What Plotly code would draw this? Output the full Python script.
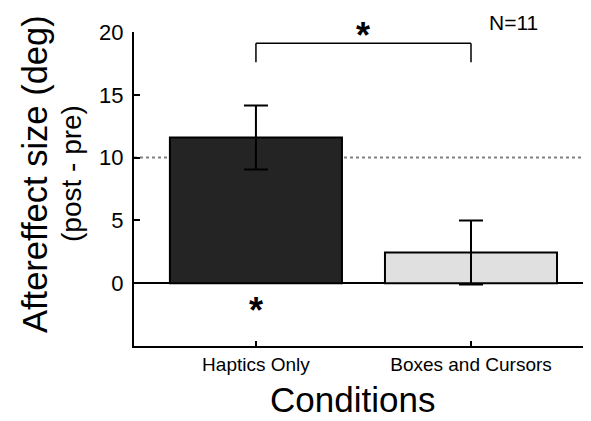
import plotly.graph_objects as go

categories = ["Haptics Only", "Boxes and Cursors"]
means = [11.6, 2.45]
errors = [2.55, 2.55]
bar_colors = ["#242424", "#e0e0e0"]
y_ticks = [0, 5, 10, 15, 20]
reference_value = 10
bracket_top = 19.1
bracket_leg = 17.6
star_below = -2.2
n_label = "N=11"

FONT = "Arial, Liberation Sans, Helvetica, sans-serif"

# The page body has an 8px margin, so the figure is sized to fill the rest.
W, H = 583, 413
L, R, T, B = 126, 0, 24, 75
PW, PH = W - L - R, H - T - B
X_RANGE = [-0.567, 1.558]
Y_RANGE = [-5, 20]

fig = go.Figure()
fig.add_trace(go.Bar(
    x=categories, y=means,
    width=0.8,
    marker=dict(color=bar_colors, line=dict(color="black", width=2)),
    error_y=dict(type="data", array=errors, visible=True,
                 color="black", thickness=2, width=12),
    showlegend=False,
))

# reference dotted line
fig.add_shape(type="line", xref="paper", x0=0, x1=1, yref="y",
              y0=reference_value, y1=reference_value,
              line=dict(color="#808080", width=2, dash="dot"), layer="below")

# significance bracket
for x0, x1, y0, y1 in [
    (categories[0], categories[0], bracket_leg, bracket_top),
    (categories[0], categories[1], bracket_top, bracket_top),
    (categories[1], categories[1], bracket_top, bracket_leg),
]:
    fig.add_shape(type="line", xref="x", yref="y", x0=x0, x1=x1, y0=y0, y1=y1,
                  line=dict(color="black", width=1.5))

mid_paper = (0.5 - X_RANGE[0]) / (X_RANGE[1] - X_RANGE[0])
bracket_paper = (bracket_top - Y_RANGE[0]) / (Y_RANGE[1] - Y_RANGE[0])
fig.add_annotation(x=mid_paper, y=bracket_paper, xref="paper", yref="paper", text="<b>*</b>",
                   showarrow=False, font=dict(family=FONT, size=36, color="black"),
                   xanchor="center", yanchor="middle", yshift=8)
fig.add_annotation(x=categories[0], y=star_below, xref="x", yref="y", text="<b>*</b>",
                   showarrow=False, font=dict(family=FONT, size=36, color="black"),
                   xanchor="center", yanchor="middle")
fig.add_annotation(x=(513 - 134) / PW, y=1 + (32 - 22) / PH, xref="paper", yref="paper",
                   text=n_label, showarrow=False, xanchor="center", yanchor="middle",
                   font=dict(family=FONT, size=21, color="black"))

# x-axis title, sitting on the bottom edge of the figure
fig.add_annotation(x=(352 - 134) / PW, y=-B / PH, xref="paper", yref="paper",
                   text="Conditions", showarrow=False, xanchor="center", yanchor="bottom",
                   font=dict(family=FONT, size=35, color="black"))

# y-axis titles
fig.add_annotation(xref="paper", yref="paper", x=0, y=(346 - 174) / PH, xshift=-(134 - 35),
                   text="Aftereffect size (deg)", textangle=-90, showarrow=False,
                   xanchor="center", yanchor="middle",
                   font=dict(family=FONT, size=34.5, color="black"))
fig.add_annotation(xref="paper", yref="paper", x=0, y=(346 - 174) / PH, xshift=-(134 - 71),
                   text="(post - pre)", textangle=-90, showarrow=False,
                   xanchor="center", yanchor="middle",
                   font=dict(family=FONT, size=28, color="black"))

fig.update_layout(
    width=W, height=H,
    margin=dict(l=L, r=R, t=T, b=B),
    paper_bgcolor="white", plot_bgcolor="white",
    font=dict(family=FONT, color="black"),
    xaxis=dict(
        type="category", range=X_RANGE,
        showline=True, linecolor="black", linewidth=2,
        ticks="inside", ticklen=5, tickwidth=2, tickcolor="black",
        tickfont=dict(size=19), showgrid=False,
    ),
    yaxis=dict(
        range=Y_RANGE, tickvals=y_ticks,
        showline=True, linecolor="black", linewidth=2,
        ticks="inside", ticklen=6, tickwidth=2, tickcolor="black",
        tickfont=dict(size=22), showgrid=False, ticklabelstandoff=4,
        zeroline=True, zerolinecolor="black", zerolinewidth=2,
    ),
)

fig.write_html("out.html")
